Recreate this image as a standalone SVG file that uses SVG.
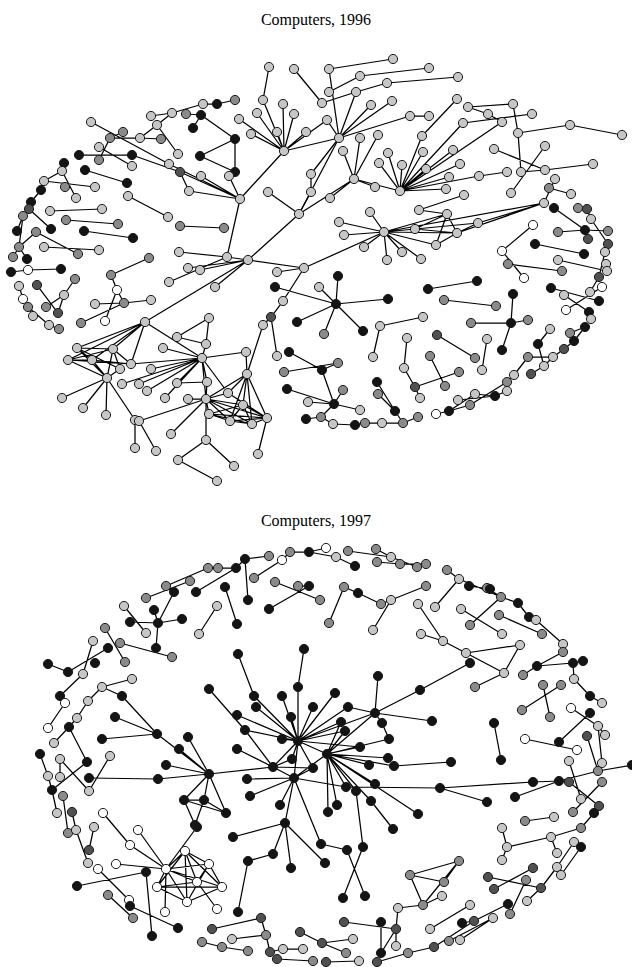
<svg xmlns="http://www.w3.org/2000/svg" width="632" height="967" viewBox="0 0 632 967">
<style>
circle{r:4.6px;stroke:#1a1a1a;stroke-width:1}
.l{fill:#c6c6c6}.m{fill:#8a8a8a}.d{fill:#505050}.k{fill:#141414}.w{fill:#fff}
.e{fill:none;stroke:#000;stroke-width:1.25;stroke-linecap:round}
.t{font-family:"Liberation Serif","Times New Roman",serif;font-size:16px;text-anchor:middle;fill:#000}
</style>
<rect width="632" height="967" fill="#fff"/>
<text class="t" x="316" y="25">Computers, 1996</text>
<text class="t" x="316" y="526">Computers, 1997</text>

<!-- 1996 network: edges -->
<g id="edges-1996">
<path class="e" d="M269 67L263 100M263 100L284 151M294 69L322 103M284 151L257 113M284 151L239 119M284 151L251 134M284 151L277 132M284 151L283 104M284 151L294 114M284 151L306 132M284 151L240 199M284 151L327 120M284 151L339 138M311 174L311 192M311 174L339 138M311 192L299 214M268 192L299 214M151 116L172 113M172 113L203 104M203 104L217 104M217 104L235 100M186 114L201 115M201 115L235 139M201 115L193 128M157 125L172 113M157 125L140 138M140 138L161 139M157 125L178 154M235 139L200 156M235 139L235 172M200 156L235 172M91 122L169 164M169 164L240 199M123 132L110 138M110 138L99 160M110 138L140 138M99 147L132 166M79 155L132 155M132 155L180 172M180 172L240 199M180 172L189 191M201 176L240 199M229 176L240 199M189 191L240 199M64 163L62 171M62 171L44 181M44 181L41 190M62 171L76 198M44 181L95 187M85 170L127 183M240 199L227 257M31 202L41 190"/>
<path class="e" d="M329 69L393 59M329 69L339 138M360 76L429 68M329 92L360 76M356 92L387 83M387 83L458 77M322 103L356 92M356 92L339 138M371 105L339 138M392 101L339 138M339 138L410 116M410 116L429 116M339 138L299 214M339 138L327 120M457 99L422 136M468 107L513 104M513 104L518 133M468 107L488 114M488 114L502 122M463 123L532 114M518 133L570 125M570 125L622 135M518 133L521 172M494 149L545 170M545 146L511 193M521 172L545 170M545 170L593 164M400 191L422 136M400 191L423 152M400 191L453 150M400 191L460 164M400 191L449 177M400 191L446 189M400 191L479 176M400 191L426 169M400 191L402 165M400 191L388 153M400 191L379 163M400 191L502 122M400 191L463 123M354 179L375 187M354 179L343 151M354 179L360 138M354 179L378 135M354 179L400 191M354 179L330 198M354 179L299 214M479 176L507 172M549 188L571 194M555 179L544 203M464 195L419 210"/>
<path class="e" d="M29 209L51 229M29 209L23 216M23 216L19 247M17 231L23 216M36 232L19 247M36 232L78 254M50 211L102 209M66 220L118 224M84 231L133 238M44 247L99 250M19 247L13 257M19 247L27 259M11 272L28 270M28 270L61 269M37 285L58 313M58 313L64 295M64 295L75 279M46 307L64 295M19 286L23 299M23 299L28 307M28 307L49 325M49 325L59 329M33 316L28 307M168 217L128 196M180 226L224 228M299 214L248 260M179 252L227 257M227 257L248 260M188 268L248 260M200 270L248 260M169 282L227 257M215 287L248 260M248 260L304 268M248 260L145 322M149 258L111 275M111 275L117 290M117 290L105 321M117 290L124 303M124 303L151 300M95 304L124 303M81 323L124 303M209 318L177 337M209 318L206 344M177 337L206 344M304 268L277 272M304 268L283 301M283 301L271 317M271 317L263 325M275 287L336 304M297 322L336 304M304 268L384 232M263 325L247 374"/>
<path class="e" d="M384 232L339 222M384 232L344 235M384 232L370 212M384 232L364 247M384 232L387 260M384 232L402 252M384 232L421 259M384 232L415 229M384 232L436 245M384 232L447 214M384 232L457 233M384 232L478 223M384 232L544 203M415 229L447 214M447 214L436 245M447 214L457 233M457 233L478 223M415 229L457 233M436 245L457 233M419 210L447 214M478 223L544 203M457 233L544 203M554 208L585 230M558 232L585 230M585 230L608 231M585 230L588 239M578 208L587 209M587 209L591 219M591 219L608 244M533 225L502 251M502 251L524 278M508 264L562 271M535 244L584 254M558 260L607 271M605 252L599 277M602 287L566 310M551 288L599 301M564 295L589 312M589 312L591 319M599 277L590 292M338 276L336 304M336 304L388 299M336 304L363 331M319 287L336 304M428 289L477 281M444 300L496 306M513 294L511 323M471 323L511 323M511 323L528 320M511 323L502 350M380 326L423 317M380 326L373 357M437 335L475 358M407 338L404 368M487 339L482 370M550 329L538 344M570 333L585 327M585 327L574 341M574 341L564 349M324 334L336 304"/>
<path class="e" d="M77 348L113 349M68 360L92 360M68 360L113 349M77 348L92 360M77 348L107 378M68 360L107 378M92 360L107 378M113 349L107 378M113 349L131 364M120 369L107 378M68 360L131 364M92 360L131 364M77 348L120 369M113 349L120 369M145 322L77 348M145 322L113 349M145 322L92 360M145 322L131 364M145 322L68 360M107 378L62 398M107 378L83 408M107 378L106 415M107 378L135 420M135 420L135 448M139 421L156 451M139 421L206 399M202 358L151 369M202 358L122 384M202 358L139 384M202 358L147 391M202 358L177 383M202 358L207 382M202 358L206 399M202 358L228 393M202 358L246 352M202 358L163 348M202 358L131 364M202 358L145 322M202 358L206 344M202 358L165 398M177 383L207 382M207 382L206 399M188 399L206 399M206 399L171 434M206 399L206 440M206 399L247 374M206 399L228 393M206 399L209 414M206 399L230 421M206 399L252 424M206 399L267 418M206 399L243 405M209 414L230 421M230 421L252 424M252 424L267 418M209 414L252 424M209 414L267 418M230 421L267 418M243 405L267 418M243 405L230 421M243 405L252 424M228 393L267 418M209 414L243 405M247 374L243 405M247 374L252 424M247 374L267 418M247 374L230 421M247 374L228 393M247 374L246 352M267 418L258 454M206 440L178 460M206 440L234 466M178 460L217 481M284 372L338 363M289 352L322 370M287 389L334 404M308 402L334 404M306 419L321 417M277 356L271 317"/>
<path class="e" d="M333 424L355 425M355 425L365 423M365 423L382 423M382 423L403 423M403 423L418 417M321 417L333 424M334 404L321 417M334 404L322 370M334 404L343 390M334 404L360 410M404 368L415 387M415 387L420 398M415 387L459 372M430 356L445 386M377 382L395 411M378 394L395 411M395 411L403 423M436 414L449 411M449 411L470 405M470 405L507 382M449 411L475 394M458 400L495 396M495 396L507 391M475 394L495 396M507 382L514 375M514 375L528 357M528 357L553 357M531 374L544 366M544 366L553 357M553 357L564 349M544 366L538 344M322 370L338 363"/>
</g>

<!-- 1996 network: nodes -->
<g id="nodes-1996">
<circle id="a1" class="l" cx="269" cy="67"/><circle id="a2" class="l" cx="294" cy="69"/><circle id="a3" class="l" cx="263" cy="100"/><circle id="a4" class="l" cx="283" cy="104"/><circle id="a5" class="l" cx="294" cy="114"/><circle id="a6" class="l" cx="257" cy="113"/><circle id="a7" class="l" cx="239" cy="119"/><circle id="a8" class="l" cx="251" cy="134"/><circle id="a9" class="l" cx="277" cy="132"/><circle id="a10" class="l" cx="306" cy="132"/><circle id="a11" class="l" cx="284" cy="151"/><circle id="a12" class="l" cx="311" cy="174"/><circle id="a13" class="l" cx="311" cy="192"/><circle id="a14" class="l" cx="268" cy="192"/><circle id="a15" class="l" cx="240" cy="199"/><circle id="a16" class="l" cx="203" cy="104"/><circle id="a17" class="k" cx="217" cy="104"/><circle id="a18" class="m" cx="235" cy="100"/><circle id="a19" class="l" cx="172" cy="113"/><circle id="a20" class="m" cx="186" cy="114"/><circle id="a21" class="k" cx="201" cy="115"/><circle id="a22" class="l" cx="151" cy="116"/><circle id="a23" class="k" cx="193" cy="128"/><circle id="a24" class="l" cx="157" cy="125"/><circle id="a25" class="l" cx="91" cy="122"/><circle id="a26" class="m" cx="123" cy="132"/><circle id="a27" class="m" cx="110" cy="138"/><circle id="a28" class="l" cx="140" cy="138"/><circle id="a29" class="m" cx="161" cy="139"/><circle id="a30" class="k" cx="235" cy="139"/><circle id="a31" class="l" cx="178" cy="154"/><circle id="a32" class="k" cx="200" cy="156"/><circle id="a33" class="l" cx="99" cy="147"/><circle id="a34" class="k" cx="79" cy="155"/><circle id="a35" class="m" cx="99" cy="160"/><circle id="a36" class="k" cx="132" cy="155"/><circle id="a37" class="l" cx="132" cy="166"/><circle id="a38" class="l" cx="169" cy="164"/><circle id="a39" class="d" cx="180" cy="172"/><circle id="a40" class="k" cx="235" cy="172"/><circle id="a41" class="l" cx="201" cy="176"/><circle id="a42" class="l" cx="229" cy="176"/><circle id="a43" class="l" cx="189" cy="191"/><circle id="a44" class="k" cx="64" cy="163"/><circle id="a45" class="l" cx="62" cy="171"/><circle id="a46" class="l" cx="44" cy="181"/><circle id="a47" class="k" cx="41" cy="190"/><circle id="a48" class="m" cx="65" cy="187"/><circle id="a49" class="l" cx="95" cy="187"/><circle id="a50" class="k" cx="85" cy="170"/><circle id="a51" class="k" cx="127" cy="183"/><circle id="a52" class="l" cx="76" cy="198"/><circle id="a53" class="l" cx="128" cy="196"/><circle id="a54" class="k" cx="31" cy="202"/>
<circle id="a55" class="l" cx="393" cy="59"/><circle id="a56" class="l" cx="329" cy="69"/><circle id="a57" class="l" cx="429" cy="68"/><circle id="a58" class="l" cx="360" cy="76"/><circle id="a59" class="l" cx="458" cy="77"/><circle id="a60" class="l" cx="387" cy="83"/><circle id="a61" class="l" cx="329" cy="92"/><circle id="a62" class="l" cx="356" cy="92"/><circle id="a63" class="l" cx="322" cy="103"/><circle id="a64" class="l" cx="371" cy="105"/><circle id="a65" class="l" cx="392" cy="101"/><circle id="a66" class="l" cx="327" cy="120"/><circle id="a67" class="l" cx="339" cy="138"/><circle id="a68" class="l" cx="360" cy="138"/><circle id="a69" class="l" cx="378" cy="135"/><circle id="a70" class="l" cx="410" cy="116"/><circle id="a71" class="l" cx="429" cy="116"/><circle id="a72" class="l" cx="457" cy="99"/><circle id="a73" class="l" cx="468" cy="107"/><circle id="a74" class="l" cx="513" cy="104"/><circle id="a75" class="l" cx="488" cy="114"/><circle id="a76" class="l" cx="532" cy="114"/><circle id="a77" class="l" cx="463" cy="123"/><circle id="a78" class="l" cx="502" cy="122"/><circle id="a79" class="l" cx="518" cy="133"/><circle id="a80" class="l" cx="570" cy="125"/><circle id="a81" class="l" cx="622" cy="135"/><circle id="a82" class="l" cx="422" cy="136"/><circle id="a83" class="l" cx="343" cy="151"/><circle id="a84" class="l" cx="388" cy="153"/><circle id="a85" class="l" cx="423" cy="152"/><circle id="a86" class="l" cx="453" cy="150"/><circle id="a87" class="l" cx="494" cy="149"/><circle id="a88" class="l" cx="545" cy="146"/><circle id="a89" class="l" cx="379" cy="163"/><circle id="a90" class="l" cx="402" cy="165"/><circle id="a91" class="l" cx="426" cy="169"/><circle id="a92" class="l" cx="460" cy="164"/><circle id="a93" class="l" cx="354" cy="179"/><circle id="a94" class="l" cx="375" cy="187"/><circle id="a95" class="l" cx="400" cy="191"/><circle id="a96" class="l" cx="449" cy="177"/><circle id="a97" class="l" cx="446" cy="189"/><circle id="a98" class="l" cx="479" cy="176"/><circle id="a99" class="l" cx="507" cy="172"/><circle id="a100" class="l" cx="521" cy="172"/><circle id="a101" class="l" cx="545" cy="170"/><circle id="a102" class="l" cx="593" cy="164"/><circle id="a103" class="l" cx="555" cy="179"/><circle id="a104" class="m" cx="549" cy="188"/><circle id="a105" class="l" cx="571" cy="194"/><circle id="a106" class="l" cx="511" cy="193"/><circle id="a107" class="l" cx="464" cy="195"/><circle id="a108" class="l" cx="330" cy="198"/>
<circle id="a109" class="d" cx="29" cy="209"/><circle id="a110" class="l" cx="50" cy="211"/><circle id="a111" class="l" cx="102" cy="209"/><circle id="a112" class="m" cx="23" cy="216"/><circle id="a113" class="m" cx="66" cy="220"/><circle id="a114" class="m" cx="118" cy="224"/><circle id="a115" class="k" cx="51" cy="229"/><circle id="a116" class="k" cx="17" cy="231"/><circle id="a117" class="m" cx="36" cy="232"/><circle id="a118" class="k" cx="84" cy="231"/><circle id="a119" class="k" cx="133" cy="238"/><circle id="a120" class="l" cx="168" cy="217"/><circle id="a121" class="m" cx="180" cy="226"/><circle id="a122" class="m" cx="224" cy="228"/><circle id="a123" class="l" cx="299" cy="214"/><circle id="a124" class="m" cx="19" cy="247"/><circle id="a125" class="l" cx="44" cy="247"/><circle id="a126" class="m" cx="78" cy="254"/><circle id="a127" class="l" cx="99" cy="250"/><circle id="a128" class="m" cx="13" cy="257"/><circle id="a129" class="k" cx="27" cy="259"/><circle id="a130" class="k" cx="11" cy="272"/><circle id="a131" class="w" cx="28" cy="270"/><circle id="a132" class="k" cx="61" cy="269"/><circle id="a133" class="l" cx="179" cy="252"/><circle id="a134" class="l" cx="227" cy="257"/><circle id="a135" class="l" cx="248" cy="260"/><circle id="a136" class="l" cx="188" cy="268"/><circle id="a137" class="l" cx="200" cy="270"/><circle id="a138" class="l" cx="169" cy="282"/><circle id="a139" class="l" cx="215" cy="287"/><circle id="a140" class="m" cx="149" cy="258"/><circle id="a141" class="m" cx="111" cy="275"/><circle id="a142" class="m" cx="75" cy="279"/><circle id="a143" class="l" cx="19" cy="286"/><circle id="a144" class="d" cx="37" cy="285"/><circle id="a145" class="l" cx="64" cy="295"/><circle id="a146" class="w" cx="117" cy="290"/><circle id="a147" class="m" cx="124" cy="303"/><circle id="a148" class="l" cx="151" cy="300"/><circle id="a149" class="l" cx="95" cy="304"/><circle id="a150" class="w" cx="23" cy="299"/><circle id="a151" class="m" cx="28" cy="307"/><circle id="a152" class="m" cx="46" cy="307"/><circle id="a153" class="d" cx="58" cy="313"/><circle id="a154" class="l" cx="33" cy="316"/><circle id="a155" class="w" cx="105" cy="321"/><circle id="a156" class="m" cx="81" cy="323"/><circle id="a157" class="l" cx="49" cy="325"/><circle id="a158" class="m" cx="59" cy="329"/><circle id="a159" class="l" cx="145" cy="322"/><circle id="a160" class="l" cx="209" cy="318"/><circle id="a161" class="l" cx="177" cy="337"/><circle id="a162" class="l" cx="206" cy="344"/><circle id="a163" class="l" cx="277" cy="272"/><circle id="a164" class="l" cx="304" cy="268"/><circle id="a165" class="k" cx="275" cy="287"/><circle id="a166" class="l" cx="283" cy="301"/><circle id="a167" class="d" cx="271" cy="317"/><circle id="a168" class="l" cx="263" cy="325"/><circle id="a169" class="k" cx="297" cy="322"/>
<circle id="a170" class="l" cx="370" cy="212"/><circle id="a171" class="l" cx="419" cy="210"/><circle id="a172" class="l" cx="447" cy="214"/><circle id="a173" class="l" cx="544" cy="203"/><circle id="a174" class="k" cx="554" cy="208"/><circle id="a175" class="m" cx="578" cy="208"/><circle id="a176" class="d" cx="587" cy="209"/><circle id="a177" class="l" cx="591" cy="219"/><circle id="a178" class="l" cx="339" cy="222"/><circle id="a179" class="l" cx="344" cy="235"/><circle id="a180" class="l" cx="384" cy="232"/><circle id="a181" class="l" cx="415" cy="229"/><circle id="a182" class="l" cx="478" cy="223"/><circle id="a183" class="l" cx="457" cy="233"/><circle id="a184" class="l" cx="436" cy="245"/><circle id="a185" class="l" cx="364" cy="247"/><circle id="a186" class="l" cx="402" cy="252"/><circle id="a187" class="l" cx="387" cy="260"/><circle id="a188" class="l" cx="421" cy="259"/><circle id="a189" class="w" cx="533" cy="225"/><circle id="a190" class="m" cx="558" cy="232"/><circle id="a191" class="k" cx="585" cy="230"/><circle id="a192" class="m" cx="608" cy="231"/><circle id="a193" class="d" cx="588" cy="239"/><circle id="a194" class="d" cx="608" cy="244"/><circle id="a195" class="w" cx="502" cy="251"/><circle id="a196" class="k" cx="535" cy="244"/><circle id="a197" class="k" cx="584" cy="254"/><circle id="a198" class="l" cx="605" cy="252"/><circle id="a199" class="l" cx="558" cy="260"/><circle id="a200" class="m" cx="508" cy="264"/><circle id="a201" class="m" cx="562" cy="271"/><circle id="a202" class="l" cx="606" cy="264"/><circle id="a203" class="l" cx="607" cy="271"/><circle id="a204" class="w" cx="524" cy="278"/><circle id="a205" class="d" cx="599" cy="277"/><circle id="a206" class="w" cx="602" cy="287"/><circle id="a207" class="l" cx="590" cy="292"/><circle id="a208" class="k" cx="338" cy="276"/><circle id="a209" class="l" cx="319" cy="287"/><circle id="a210" class="k" cx="477" cy="281"/><circle id="a211" class="k" cx="428" cy="289"/><circle id="a212" class="k" cx="551" cy="288"/><circle id="a213" class="l" cx="564" cy="295"/><circle id="a214" class="k" cx="336" cy="304"/><circle id="a215" class="k" cx="388" cy="299"/><circle id="a216" class="m" cx="444" cy="300"/><circle id="a217" class="m" cx="496" cy="306"/><circle id="a218" class="k" cx="513" cy="294"/><circle id="a219" class="k" cx="599" cy="301"/><circle id="a220" class="w" cx="566" cy="310"/><circle id="a221" class="k" cx="589" cy="312"/><circle id="a222" class="l" cx="591" cy="319"/><circle id="a223" class="k" cx="363" cy="331"/><circle id="a224" class="l" cx="380" cy="326"/><circle id="a225" class="l" cx="423" cy="317"/><circle id="a226" class="m" cx="471" cy="323"/><circle id="a227" class="k" cx="511" cy="323"/><circle id="a228" class="m" cx="528" cy="320"/><circle id="a229" class="l" cx="550" cy="329"/><circle id="a230" class="m" cx="570" cy="333"/><circle id="a231" class="k" cx="585" cy="327"/><circle id="a232" class="m" cx="324" cy="334"/><circle id="a233" class="l" cx="407" cy="338"/><circle id="a234" class="d" cx="437" cy="335"/><circle id="a235" class="l" cx="487" cy="339"/><circle id="a236" class="k" cx="538" cy="344"/><circle id="a237" class="k" cx="574" cy="341"/>
<circle id="a238" class="l" cx="77" cy="348"/><circle id="a239" class="l" cx="113" cy="349"/><circle id="a240" class="l" cx="68" cy="360"/><circle id="a241" class="l" cx="92" cy="360"/><circle id="a242" class="l" cx="120" cy="369"/><circle id="a243" class="l" cx="131" cy="364"/><circle id="a244" class="l" cx="107" cy="378"/><circle id="a245" class="l" cx="163" cy="348"/><circle id="a246" class="l" cx="202" cy="358"/><circle id="a247" class="l" cx="246" cy="352"/><circle id="a248" class="l" cx="277" cy="356"/><circle id="a249" class="k" cx="289" cy="352"/><circle id="a250" class="l" cx="151" cy="369"/><circle id="a251" class="l" cx="122" cy="384"/><circle id="a252" class="l" cx="139" cy="384"/><circle id="a253" class="l" cx="147" cy="391"/><circle id="a254" class="l" cx="177" cy="383"/><circle id="a255" class="l" cx="207" cy="382"/><circle id="a256" class="l" cx="165" cy="398"/><circle id="a257" class="l" cx="188" cy="399"/><circle id="a258" class="l" cx="206" cy="399"/><circle id="a259" class="l" cx="228" cy="393"/><circle id="a260" class="l" cx="247" cy="374"/><circle id="a261" class="l" cx="243" cy="405"/><circle id="a262" class="l" cx="62" cy="398"/><circle id="a263" class="l" cx="83" cy="408"/><circle id="a264" class="l" cx="106" cy="415"/><circle id="a265" class="l" cx="135" cy="420"/><circle id="a321" class="l" cx="139" cy="421"/><circle id="a266" class="l" cx="209" cy="414"/><circle id="a267" class="l" cx="230" cy="421"/><circle id="a268" class="l" cx="252" cy="424"/><circle id="a269" class="l" cx="267" cy="418"/><circle id="a270" class="m" cx="284" cy="372"/><circle id="a271" class="k" cx="287" cy="389"/><circle id="a272" class="l" cx="308" cy="402"/><circle id="a273" class="k" cx="306" cy="419"/><circle id="a274" class="l" cx="171" cy="434"/><circle id="a275" class="l" cx="206" cy="440"/><circle id="a276" class="l" cx="135" cy="448"/><circle id="a277" class="l" cx="156" cy="451"/><circle id="a278" class="l" cx="178" cy="460"/><circle id="a279" class="l" cx="234" cy="466"/><circle id="a280" class="l" cx="258" cy="454"/><circle id="a281" class="l" cx="217" cy="481"/>
<circle id="a282" class="l" cx="373" cy="357"/><circle id="a283" class="m" cx="338" cy="363"/><circle id="a284" class="k" cx="322" cy="370"/><circle id="a285" class="m" cx="430" cy="356"/><circle id="a286" class="m" cx="475" cy="358"/><circle id="a287" class="k" cx="502" cy="350"/><circle id="a288" class="m" cx="528" cy="357"/><circle id="a289" class="l" cx="553" cy="357"/><circle id="a290" class="d" cx="564" cy="349"/><circle id="a291" class="l" cx="404" cy="368"/><circle id="a292" class="l" cx="482" cy="370"/><circle id="a293" class="m" cx="459" cy="372"/><circle id="a294" class="l" cx="544" cy="366"/><circle id="a295" class="l" cx="514" cy="375"/><circle id="a296" class="d" cx="531" cy="374"/><circle id="a297" class="k" cx="377" cy="382"/><circle id="a298" class="m" cx="343" cy="390"/><circle id="a299" class="m" cx="378" cy="394"/><circle id="a300" class="d" cx="415" cy="387"/><circle id="a301" class="m" cx="445" cy="386"/><circle id="a302" class="l" cx="420" cy="398"/><circle id="a303" class="m" cx="507" cy="382"/><circle id="a304" class="l" cx="507" cy="391"/><circle id="a305" class="l" cx="475" cy="394"/><circle id="a306" class="k" cx="495" cy="396"/><circle id="a307" class="l" cx="458" cy="400"/><circle id="a308" class="m" cx="470" cy="405"/><circle id="a309" class="k" cx="334" cy="404"/><circle id="a310" class="l" cx="360" cy="410"/><circle id="a311" class="k" cx="395" cy="411"/><circle id="a312" class="k" cx="449" cy="411"/><circle id="a313" class="w" cx="436" cy="414"/><circle id="a314" class="m" cx="321" cy="417"/><circle id="a315" class="m" cx="418" cy="417"/><circle id="a316" class="l" cx="333" cy="424"/><circle id="a317" class="k" cx="355" cy="425"/><circle id="a318" class="m" cx="365" cy="423"/><circle id="a319" class="l" cx="382" cy="423"/><circle id="a320" class="m" cx="403" cy="423"/>
</g>

<!-- 1997 network: edges -->
<g id="edges-1997">
<path class="e" d="M146 598L190 581M166 586L208 568M208 568L218 568M166 586L174 592M174 592L158 623M196 592L236 568M218 568L236 568M236 568L245 559M245 559L248 600M245 559L269 556M282 560L254 578M282 560L290 552M290 552L309 552M275 582L320 600M298 586L309 586M309 586L269 609M225 587L237 624M217 606L199 634M124 606L146 633M154 610L158 623M130 622L158 623M158 623L182 619M158 623L156 648M105 628L125 662M120 643L172 657M108 648L68 672M93 641L83 674M48 664L68 672M238 654L254 696M304 649L298 687"/>
<path class="e" d="M309 552L326 548M309 552L336 557M336 557L355 566M348 551L391 557M376 549L391 557M391 557L417 567M377 562L400 564M400 564L426 564M447 570L459 579M459 579L501 597M469 586L490 589M487 588L501 597M501 597L518 603M501 597L470 625M518 603L529 617M529 617L536 620M536 620L563 644M499 615L542 634M563 644L563 652M563 652L537 666M537 666L573 663M573 663L583 661M573 663L574 679M459 579L435 607M461 609L502 634M344 587L329 623M344 587L358 593M358 593L381 604M381 604L391 600M391 600L426 586M391 600L373 630M418 604L443 641M443 641L466 653M466 653L520 645M421 634L443 641M466 653L504 673M520 645L504 673M470 663L420 690M523 675L537 666"/>
<path class="e" d="M60 696L83 674M65 703L48 728M88 701L102 687M102 687L132 679M102 687L122 696M88 701L77 718M77 718L69 727M122 696L157 734M115 717L157 734M102 739L157 734M157 734L209 774M179 749L209 774M188 737L209 774M166 765L209 774M158 779L209 774M89 778L158 779M209 774L273 767M209 774L184 800M209 774L204 800M209 774L226 813M184 800L204 800M204 800L226 813M184 800L195 825M184 800L226 813M204 800L195 825M69 727L87 762M54 743L69 727M40 754L48 776M48 776L52 790M60 759L89 791M60 777L60 759M87 762L52 790M110 756L89 791M52 790L57 813M63 796L68 833M72 812L76 830M103 813L130 845M209 689L245 730M298 687L298 741M282 696L298 741M256 707L298 741M254 696L298 741M237 715L298 741M245 730L298 741M291 717L298 741M313 707L298 741M282 739L298 741M237 749L273 767M298 741L273 767M298 741L294 778M298 741L313 768M298 741L292 759M298 741L327 754M273 767L294 778M273 767L313 768M273 767L292 759M294 778L247 779M294 778L250 796M294 778L280 805M294 778L285 823M294 778L313 768M294 778L327 754M245 730L273 767M298 741L341 722M298 741L345 731M298 741L348 707M298 741L360 747M298 741L375 713M298 741L335 693M294 778L346 787"/>
<path class="e" d="M375 713L420 690M375 713L432 721M375 713L382 723M375 713L378 676M375 713L327 754M375 713L348 707M341 722L327 754M345 731L327 754M360 747L327 754M389 739L327 754M382 723L389 739M388 758L327 754M394 766L327 754M369 765L327 754M375 784L327 754M346 787L327 754M356 791L327 754M371 801L327 754M337 805L327 754M328 812L327 754M418 814L327 754M394 766L451 762M346 787L440 788M440 788L533 782M533 782L559 781M559 781L598 771M598 771L632 765M440 788L487 802M494 723L501 760M475 687L504 673M522 710L561 685M543 685L550 717M574 679L590 696M590 696L602 703M590 713L559 742M571 708L598 726M598 726L602 763M605 735L598 726M587 736L598 771M525 739L577 750M569 761L581 799M515 797L559 781M569 782L599 806M602 782L573 812M594 813L581 828M525 821L554 817"/>
<path class="e" d="M185 851L209 864M185 851L166 869M185 851L197 882M185 851L187 902M185 851L222 887M185 851L157 887M209 864L166 869M209 864L197 882M209 864L222 887M209 864L187 902M166 869L197 882M166 869L157 887M166 869L222 887M166 869L187 902M157 887L222 887M157 887L187 902M222 887L187 902M197 882L157 887M166 869L130 845M166 869L116 864M166 869L138 830M166 869L165 912M197 882L217 909M166 869L197 827M146 872L77 886M146 872L152 936M98 869L129 900M108 895L133 918M130 906L178 928M76 830L88 863M68 833L76 830M89 850L94 827M273 854L285 823M248 861L273 854M233 837L285 823M291 868L285 823M248 861L238 912M212 929L261 918M261 918L266 935M266 935L270 952M202 942L222 947M222 947L248 951M232 939L266 935M270 952L283 949M283 949L303 949M277 959L313 961M300 932L322 943"/>
<path class="e" d="M321 844L347 850M347 850L365 896M363 847L343 898M294 778L321 844M325 863L285 823M363 847L356 791M393 829L371 801M410 875L459 861M410 875L444 882M444 882L459 861M410 875L423 905M423 905L459 861M423 905L442 896M423 905L398 908M398 908L396 929M344 922L396 929M381 922L381 953M396 929L381 953M396 929L396 946M322 943L353 939M322 943L346 953M326 962L359 961M377 962L408 953M507 847L502 860M502 828L507 847M507 847L551 837M551 837L557 853M551 837L581 828M488 877L541 888M494 889L533 868M526 880L510 914M541 888L557 867M527 901L541 888M561 875L581 847M557 867L574 842M430 929L470 905M474 921L508 904M462 923L474 921M493 918L449 941M408 953L434 947M434 947L474 921M460 940L493 918"/>
</g>

<!-- 1997 network: nodes -->
<g id="nodes-1997">
<circle id="b1" class="m" cx="290" cy="552"/><circle id="b2" class="k" cx="309" cy="552"/><circle id="b3" class="w" cx="282" cy="560"/><circle id="b4" class="m" cx="269" cy="556"/><circle id="b5" class="k" cx="245" cy="559"/><circle id="b6" class="k" cx="236" cy="568"/><circle id="b7" class="m" cx="218" cy="568"/><circle id="b8" class="m" cx="208" cy="568"/><circle id="b9" class="m" cx="190" cy="581"/><circle id="b10" class="m" cx="166" cy="586"/><circle id="b11" class="k" cx="174" cy="592"/><circle id="b12" class="m" cx="146" cy="598"/><circle id="b13" class="k" cx="196" cy="592"/><circle id="b14" class="m" cx="254" cy="578"/><circle id="b15" class="m" cx="275" cy="582"/><circle id="b16" class="m" cx="298" cy="586"/><circle id="b17" class="k" cx="309" cy="586"/><circle id="b18" class="k" cx="248" cy="600"/><circle id="b19" class="k" cx="225" cy="587"/><circle id="b20" class="k" cx="269" cy="609"/><circle id="b21" class="l" cx="217" cy="606"/><circle id="b22" class="l" cx="199" cy="634"/><circle id="b23" class="k" cx="237" cy="624"/><circle id="b24" class="l" cx="124" cy="606"/><circle id="b25" class="k" cx="154" cy="610"/><circle id="b26" class="k" cx="130" cy="622"/><circle id="b27" class="k" cx="158" cy="623"/><circle id="b28" class="k" cx="182" cy="619"/><circle id="b29" class="l" cx="146" cy="633"/><circle id="b30" class="m" cx="105" cy="628"/><circle id="b31" class="m" cx="120" cy="643"/><circle id="b32" class="k" cx="156" cy="648"/><circle id="b33" class="m" cx="172" cy="657"/><circle id="b34" class="m" cx="125" cy="662"/><circle id="b35" class="l" cx="93" cy="641"/><circle id="b36" class="k" cx="108" cy="648"/><circle id="b37" class="k" cx="95" cy="663"/><circle id="b38" class="k" cx="48" cy="664"/><circle id="b39" class="k" cx="68" cy="672"/><circle id="b40" class="l" cx="83" cy="674"/><circle id="b41" class="l" cx="132" cy="679"/><circle id="b42" class="k" cx="238" cy="654"/><circle id="b43" class="k" cx="304" cy="649"/>
<circle id="b44" class="w" cx="326" cy="548"/><circle id="b45" class="m" cx="348" cy="551"/><circle id="b46" class="m" cx="376" cy="549"/><circle id="b47" class="l" cx="336" cy="557"/><circle id="b48" class="l" cx="391" cy="557"/><circle id="b49" class="k" cx="355" cy="566"/><circle id="b50" class="m" cx="377" cy="562"/><circle id="b51" class="m" cx="400" cy="564"/><circle id="b52" class="m" cx="417" cy="567"/><circle id="b53" class="m" cx="426" cy="564"/><circle id="b54" class="m" cx="447" cy="570"/><circle id="b55" class="l" cx="459" cy="579"/><circle id="b56" class="k" cx="469" cy="586"/><circle id="b57" class="m" cx="487" cy="588"/><circle id="b58" class="k" cx="490" cy="589"/><circle id="b59" class="m" cx="501" cy="597"/><circle id="b60" class="k" cx="518" cy="603"/><circle id="b61" class="k" cx="529" cy="617"/><circle id="b62" class="l" cx="536" cy="620"/><circle id="b63" class="m" cx="542" cy="634"/><circle id="b64" class="m" cx="499" cy="615"/><circle id="b65" class="l" cx="563" cy="644"/><circle id="b66" class="m" cx="563" cy="652"/><circle id="b67" class="m" cx="344" cy="587"/><circle id="b68" class="k" cx="358" cy="593"/><circle id="b69" class="m" cx="381" cy="604"/><circle id="b70" class="l" cx="391" cy="600"/><circle id="b71" class="m" cx="426" cy="586"/><circle id="b72" class="m" cx="320" cy="600"/><circle id="b73" class="m" cx="329" cy="623"/><circle id="b74" class="l" cx="373" cy="630"/><circle id="b75" class="l" cx="418" cy="604"/><circle id="b76" class="l" cx="435" cy="607"/><circle id="b77" class="l" cx="461" cy="609"/><circle id="b78" class="m" cx="470" cy="625"/><circle id="b79" class="l" cx="502" cy="634"/><circle id="b80" class="l" cx="421" cy="634"/><circle id="b81" class="l" cx="443" cy="641"/><circle id="b82" class="l" cx="466" cy="653"/><circle id="b83" class="l" cx="520" cy="645"/><circle id="b84" class="k" cx="470" cy="663"/><circle id="b85" class="l" cx="504" cy="673"/><circle id="b86" class="m" cx="523" cy="675"/><circle id="b87" class="k" cx="537" cy="666"/><circle id="b88" class="k" cx="573" cy="663"/><circle id="b89" class="k" cx="583" cy="661"/><circle id="b90" class="l" cx="574" cy="679"/><circle id="b91" class="k" cx="378" cy="676"/>
<circle id="b92" class="l" cx="102" cy="687"/><circle id="b93" class="k" cx="60" cy="696"/><circle id="b94" class="w" cx="65" cy="703"/><circle id="b95" class="l" cx="88" cy="701"/><circle id="b96" class="k" cx="122" cy="696"/><circle id="b97" class="l" cx="77" cy="718"/><circle id="b98" class="w" cx="48" cy="728"/><circle id="b99" class="k" cx="69" cy="727"/><circle id="b100" class="k" cx="115" cy="717"/><circle id="b101" class="k" cx="157" cy="734"/><circle id="b102" class="k" cx="102" cy="739"/><circle id="b103" class="l" cx="54" cy="743"/><circle id="b104" class="k" cx="40" cy="754"/><circle id="b105" class="l" cx="60" cy="759"/><circle id="b106" class="k" cx="87" cy="762"/><circle id="b107" class="l" cx="110" cy="756"/><circle id="b108" class="l" cx="48" cy="776"/><circle id="b109" class="l" cx="60" cy="777"/><circle id="b110" class="k" cx="89" cy="778"/><circle id="b111" class="k" cx="158" cy="779"/><circle id="b112" class="k" cx="52" cy="790"/><circle id="b113" class="l" cx="89" cy="791"/><circle id="b114" class="m" cx="63" cy="796"/><circle id="b115" class="l" cx="57" cy="813"/><circle id="b116" class="d" cx="72" cy="812"/><circle id="b117" class="w" cx="103" cy="813"/><circle id="b118" class="k" cx="209" cy="689"/><circle id="b119" class="k" cx="188" cy="737"/><circle id="b120" class="k" cx="179" cy="749"/><circle id="b121" class="k" cx="166" cy="765"/><circle id="b122" class="k" cx="209" cy="774"/><circle id="b123" class="k" cx="184" cy="800"/><circle id="b124" class="k" cx="204" cy="800"/><circle id="b125" class="k" cx="226" cy="813"/><circle id="b126" class="k" cx="195" cy="825"/><circle id="b127" class="k" cx="254" cy="696"/><circle id="b128" class="k" cx="282" cy="696"/><circle id="b129" class="k" cx="298" cy="687"/><circle id="b130" class="k" cx="313" cy="707"/><circle id="b131" class="k" cx="256" cy="707"/><circle id="b132" class="k" cx="237" cy="715"/><circle id="b133" class="k" cx="291" cy="717"/><circle id="b134" class="k" cx="245" cy="730"/><circle id="b135" class="k" cx="282" cy="739"/><circle id="b136" class="k" cx="298" cy="741"/><circle id="b137" class="k" cx="237" cy="749"/><circle id="b138" class="k" cx="292" cy="759"/><circle id="b139" class="k" cx="273" cy="767"/><circle id="b140" class="k" cx="313" cy="768"/><circle id="b141" class="k" cx="247" cy="779"/><circle id="b142" class="k" cx="294" cy="778"/><circle id="b143" class="k" cx="250" cy="796"/><circle id="b144" class="k" cx="280" cy="805"/><circle id="b145" class="k" cx="285" cy="823"/>
<circle id="b146" class="k" cx="335" cy="693"/><circle id="b147" class="k" cx="348" cy="707"/><circle id="b148" class="k" cx="375" cy="713"/><circle id="b149" class="k" cx="420" cy="690"/><circle id="b150" class="k" cx="432" cy="721"/><circle id="b151" class="k" cx="341" cy="722"/><circle id="b152" class="k" cx="345" cy="731"/><circle id="b153" class="k" cx="382" cy="723"/><circle id="b154" class="k" cx="389" cy="739"/><circle id="b155" class="k" cx="360" cy="747"/><circle id="b156" class="k" cx="327" cy="754"/><circle id="b157" class="k" cx="388" cy="758"/><circle id="b158" class="k" cx="369" cy="765"/><circle id="b159" class="k" cx="394" cy="766"/><circle id="b160" class="k" cx="451" cy="762"/><circle id="b161" class="k" cx="375" cy="784"/><circle id="b162" class="k" cx="346" cy="787"/><circle id="b163" class="k" cx="356" cy="791"/><circle id="b164" class="k" cx="371" cy="801"/><circle id="b165" class="k" cx="440" cy="788"/><circle id="b166" class="k" cx="487" cy="802"/><circle id="b167" class="k" cx="337" cy="805"/><circle id="b168" class="k" cx="328" cy="812"/><circle id="b169" class="k" cx="418" cy="814"/><circle id="b170" class="m" cx="475" cy="687"/><circle id="b171" class="k" cx="494" cy="723"/><circle id="b172" class="k" cx="501" cy="760"/><circle id="b173" class="m" cx="522" cy="710"/><circle id="b174" class="m" cx="543" cy="685"/><circle id="b175" class="m" cx="561" cy="685"/><circle id="b176" class="m" cx="550" cy="717"/><circle id="b177" class="k" cx="590" cy="696"/><circle id="b178" class="l" cx="602" cy="703"/><circle id="b179" class="w" cx="571" cy="708"/><circle id="b180" class="k" cx="590" cy="713"/><circle id="b181" class="l" cx="598" cy="726"/><circle id="b182" class="l" cx="605" cy="735"/><circle id="b183" class="d" cx="587" cy="736"/><circle id="b184" class="w" cx="525" cy="739"/><circle id="b185" class="k" cx="559" cy="742"/><circle id="b186" class="w" cx="577" cy="750"/><circle id="b187" class="l" cx="569" cy="761"/><circle id="b188" class="l" cx="602" cy="763"/><circle id="b189" class="m" cx="598" cy="771"/><circle id="b190" class="k" cx="632" cy="765"/><circle id="b191" class="k" cx="533" cy="782"/><circle id="b192" class="k" cx="559" cy="781"/><circle id="b193" class="d" cx="569" cy="782"/><circle id="b194" class="m" cx="602" cy="782"/><circle id="b195" class="k" cx="515" cy="797"/><circle id="b196" class="l" cx="581" cy="799"/><circle id="b197" class="d" cx="599" cy="806"/><circle id="b198" class="m" cx="573" cy="812"/><circle id="b199" class="k" cx="594" cy="813"/><circle id="b200" class="m" cx="525" cy="821"/><circle id="b201" class="l" cx="554" cy="817"/>
<circle id="b202" class="m" cx="68" cy="833"/><circle id="b203" class="l" cx="76" cy="830"/><circle id="b204" class="l" cx="94" cy="827"/><circle id="b205" class="d" cx="89" cy="850"/><circle id="b206" class="l" cx="88" cy="863"/><circle id="b207" class="w" cx="138" cy="830"/><circle id="b208" class="k" cx="197" cy="827"/><circle id="b209" class="w" cx="130" cy="845"/><circle id="b210" class="w" cx="116" cy="864"/><circle id="b211" class="w" cx="185" cy="851"/><circle id="b212" class="w" cx="209" cy="864"/><circle id="b213" class="w" cx="166" cy="869"/><circle id="b214" class="k" cx="146" cy="872"/><circle id="b215" class="w" cx="98" cy="869"/><circle id="b216" class="w" cx="197" cy="882"/><circle id="b217" class="w" cx="157" cy="887"/><circle id="b218" class="w" cx="222" cy="887"/><circle id="b219" class="w" cx="187" cy="902"/><circle id="b220" class="k" cx="77" cy="886"/><circle id="b221" class="m" cx="108" cy="895"/><circle id="b222" class="w" cx="129" cy="900"/><circle id="b223" class="k" cx="130" cy="906"/><circle id="b224" class="m" cx="133" cy="918"/><circle id="b225" class="w" cx="217" cy="909"/><circle id="b226" class="w" cx="165" cy="912"/><circle id="b227" class="k" cx="178" cy="928"/><circle id="b228" class="k" cx="152" cy="936"/><circle id="b229" class="k" cx="233" cy="837"/><circle id="b230" class="k" cx="273" cy="854"/><circle id="b231" class="k" cx="248" cy="861"/><circle id="b232" class="k" cx="291" cy="868"/><circle id="b233" class="k" cx="238" cy="912"/><circle id="b234" class="d" cx="261" cy="918"/><circle id="b235" class="m" cx="266" cy="935"/><circle id="b236" class="d" cx="212" cy="929"/><circle id="b237" class="m" cx="202" cy="942"/><circle id="b238" class="l" cx="232" cy="939"/><circle id="b239" class="m" cx="222" cy="947"/><circle id="b240" class="m" cx="248" cy="951"/><circle id="b241" class="d" cx="270" cy="952"/><circle id="b242" class="l" cx="283" cy="949"/><circle id="b243" class="l" cx="303" cy="949"/><circle id="b244" class="d" cx="300" cy="932"/><circle id="b245" class="d" cx="277" cy="959"/><circle id="b246" class="m" cx="313" cy="961"/>
<circle id="b247" class="k" cx="393" cy="829"/><circle id="b248" class="k" cx="321" cy="844"/><circle id="b249" class="k" cx="347" cy="850"/><circle id="b250" class="k" cx="363" cy="847"/><circle id="b251" class="k" cx="325" cy="863"/><circle id="b252" class="k" cx="343" cy="898"/><circle id="b253" class="k" cx="365" cy="896"/><circle id="b254" class="l" cx="502" cy="828"/><circle id="b255" class="l" cx="507" cy="847"/><circle id="b256" class="l" cx="502" cy="860"/><circle id="b257" class="l" cx="551" cy="837"/><circle id="b258" class="l" cx="557" cy="853"/><circle id="b259" class="m" cx="581" cy="828"/><circle id="b260" class="l" cx="574" cy="842"/><circle id="b261" class="k" cx="581" cy="847"/><circle id="b262" class="m" cx="459" cy="861"/><circle id="b263" class="m" cx="410" cy="875"/><circle id="b264" class="m" cx="444" cy="882"/><circle id="b265" class="l" cx="442" cy="896"/><circle id="b266" class="m" cx="423" cy="905"/><circle id="b267" class="l" cx="398" cy="908"/><circle id="b268" class="d" cx="488" cy="877"/><circle id="b269" class="d" cx="533" cy="868"/><circle id="b270" class="m" cx="526" cy="880"/><circle id="b271" class="d" cx="494" cy="889"/><circle id="b272" class="d" cx="541" cy="888"/><circle id="b273" class="l" cx="557" cy="867"/><circle id="b274" class="l" cx="561" cy="875"/><circle id="b275" class="l" cx="527" cy="901"/><circle id="b276" class="l" cx="470" cy="905"/><circle id="b277" class="k" cx="508" cy="904"/><circle id="b278" class="m" cx="510" cy="914"/><circle id="b279" class="l" cx="493" cy="918"/><circle id="b280" class="k" cx="462" cy="923"/><circle id="b281" class="d" cx="474" cy="921"/><circle id="b282" class="l" cx="430" cy="929"/><circle id="b283" class="d" cx="344" cy="922"/><circle id="b284" class="k" cx="381" cy="922"/><circle id="b285" class="d" cx="396" cy="929"/><circle id="b286" class="l" cx="396" cy="946"/><circle id="b287" class="l" cx="353" cy="939"/><circle id="b288" class="d" cx="322" cy="943"/><circle id="b289" class="m" cx="346" cy="953"/><circle id="b290" class="k" cx="381" cy="953"/><circle id="b291" class="m" cx="449" cy="941"/><circle id="b292" class="d" cx="434" cy="947"/><circle id="b293" class="m" cx="408" cy="953"/><circle id="b294" class="l" cx="460" cy="940"/><circle id="b295" class="l" cx="359" cy="961"/><circle id="b296" class="d" cx="326" cy="962"/><circle id="b297" class="d" cx="377" cy="962"/>
</g>
</svg>
